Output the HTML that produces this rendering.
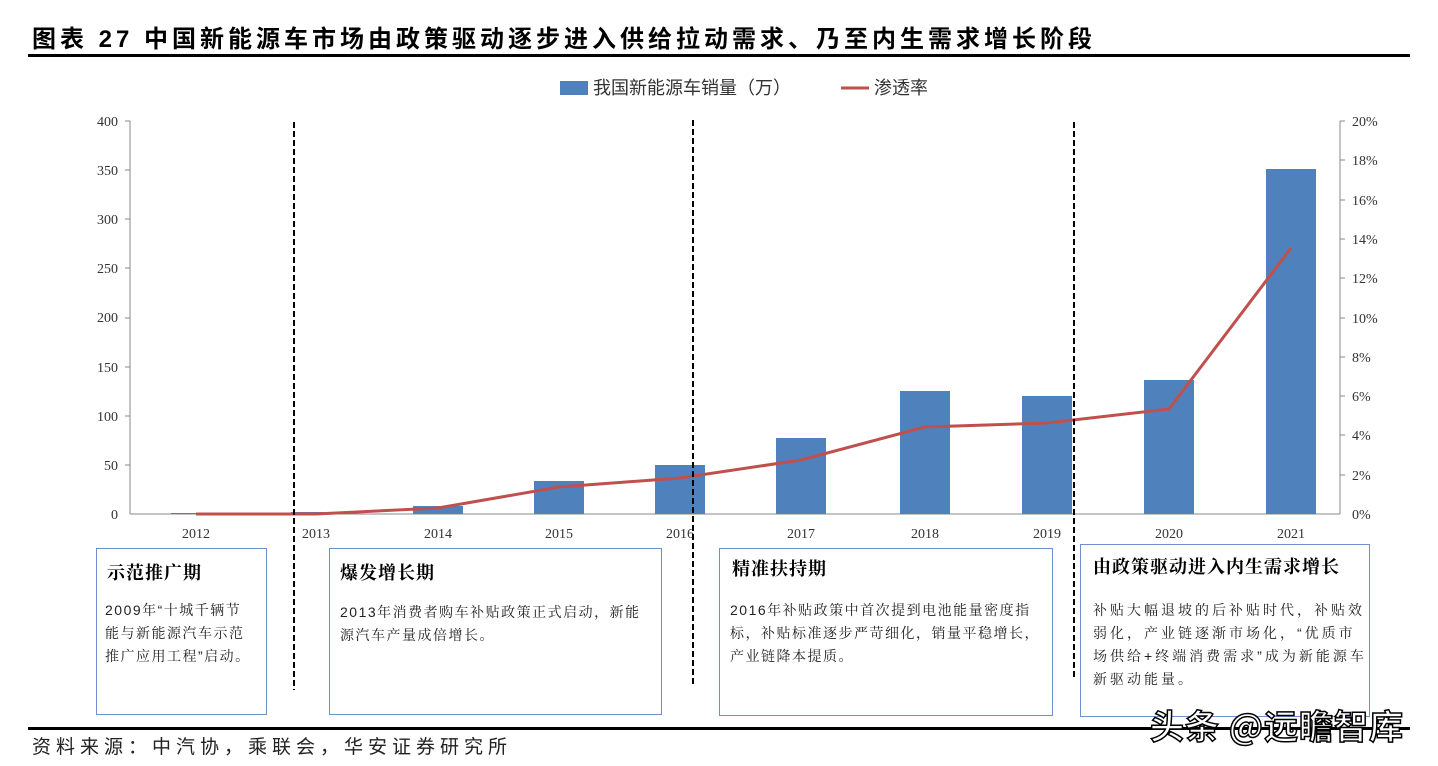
<!DOCTYPE html>
<html><head><meta charset="utf-8"><style>
body{margin:0;width:1438px;height:766px;background:#fff;overflow:hidden;font-family:"Liberation Serif","Noto Serif CJK SC",serif;position:relative}
.t{position:absolute;white-space:nowrap}
.box{position:absolute;border:1.5px solid #6f8fd0;box-sizing:border-box;background:#fff}
.box h3{margin:0;position:absolute;font-size:18px;font-weight:bold;font-family:"Noto Serif CJK SC",serif;color:#000;letter-spacing:1px}
.box p{margin:0;position:absolute;font-size:14px;line-height:23px;color:#222;letter-spacing:1.5px;white-space:nowrap;font-family:"Liberation Sans","Noto Serif CJK SC",serif}
</style></head><body>
<div class="t" style="left:32px;top:19px;font-size:24px;font-weight:bold;font-family:'Liberation Sans','Noto Sans CJK SC',sans-serif;letter-spacing:4px">图表 27 中国新能源车市场由政策驱动逐步进入供给拉动需求、乃至内生需求增长阶段</div>
<div style="position:absolute;left:28px;top:54px;width:1382px;height:3px;background:#000"></div>
<svg style="position:absolute;left:0;top:0" width="1438" height="766" font-family="Liberation Serif" font-size="14" fill="#333">
<rect x="560" y="81" width="28" height="14" fill="#4f81bd"/>
<text x="593" y="94" font-size="18" font-family="Liberation Sans,Noto Sans CJK SC,sans-serif" fill="#333">我国新能源车销量（万）</text>
<line x1="841" y1="88" x2="869" y2="88" stroke="#c0504d" stroke-width="3"/>
<text x="874" y="94" font-size="18" font-family="Liberation Sans,Noto Sans CJK SC,sans-serif" fill="#333">渗透率</text>
<g stroke="#888" stroke-width="1">
<line x1="130" y1="121" x2="130" y2="514"/><line x1="1340" y1="121" x2="1340" y2="514"/>
<line x1="130" y1="514" x2="1340" y2="514"/>
</g>
<g text-anchor="end">
<text x="118" y="126">400</text><text x="118" y="175">350</text><text x="118" y="224">300</text><text x="118" y="273">250</text><text x="118" y="322">200</text><text x="118" y="372">150</text><text x="118" y="421">100</text><text x="118" y="470">50</text><text x="118" y="519">0</text>
</g>
<g stroke="#888"><line x1="125" y1="121" x2="130" y2="121"/><line x1="125" y1="170" x2="130" y2="170"/><line x1="125" y1="219" x2="130" y2="219"/><line x1="125" y1="268" x2="130" y2="268"/><line x1="125" y1="318" x2="130" y2="318"/><line x1="125" y1="367" x2="130" y2="367"/><line x1="125" y1="416" x2="130" y2="416"/><line x1="125" y1="465" x2="130" y2="465"/>
<line x1="1340" y1="121" x2="1345" y2="121"/><line x1="1340" y1="160" x2="1345" y2="160"/><line x1="1340" y1="200" x2="1345" y2="200"/><line x1="1340" y1="239" x2="1345" y2="239"/><line x1="1340" y1="278" x2="1345" y2="278"/><line x1="1340" y1="318" x2="1345" y2="318"/><line x1="1340" y1="357" x2="1345" y2="357"/><line x1="1340" y1="396" x2="1345" y2="396"/><line x1="1340" y1="435" x2="1345" y2="435"/><line x1="1340" y1="475" x2="1345" y2="475"/></g>
<g>
<text x="1352" y="126">20%</text><text x="1352" y="165">18%</text><text x="1352" y="205">16%</text><text x="1352" y="244">14%</text><text x="1352" y="283">12%</text><text x="1352" y="323">10%</text><text x="1352" y="362">8%</text><text x="1352" y="401">6%</text><text x="1352" y="440">4%</text><text x="1352" y="480">2%</text><text x="1352" y="519">0%</text>
</g>
<g fill="#4f81bd">
<rect x="171" y="513" width="50" height="1"/><rect x="291" y="512" width="50" height="2"/><rect x="413" y="506" width="50" height="8"/><rect x="534" y="481" width="50" height="33"/><rect x="655" y="465" width="50" height="49"/><rect x="776" y="438" width="50" height="76"/><rect x="900" y="391" width="50" height="123"/><rect x="1022" y="396" width="50" height="118"/><rect x="1144" y="380" width="50" height="134"/><rect x="1266" y="169" width="50" height="345"/>
</g>
<polyline fill="none" stroke="#c0504d" stroke-width="3" points="196,514 316,514 438,508 559,487 680,478 801,460 925,427 1047,423 1169,409 1291,248"/>
<g text-anchor="middle">
<text x="196" y="538">2012</text><text x="316" y="538">2013</text><text x="438" y="538">2014</text><text x="559" y="538">2015</text><text x="680" y="538">2016</text><text x="801" y="538">2017</text><text x="925" y="538">2018</text><text x="1047" y="538">2019</text><text x="1169" y="538">2020</text><text x="1291" y="538">2021</text>
</g>
<g stroke="#000" stroke-width="2" stroke-dasharray="6,3">
<line x1="294" y1="122" x2="294" y2="690"/><line x1="693" y1="120" x2="693" y2="685"/><line x1="1074" y1="122" x2="1074" y2="680"/>
</g>
</svg>
<div class="box" style="left:96px;top:548px;width:171px;height:167px"><h3 style="left:10px;top:10px">示范推广期</h3><p style="left:8px;top:50px">2009年“十城千辆节<br>能与新能源汽车示范<br>推广应用工程”启动。</p></div>
<div class="box" style="left:329px;top:548px;width:333px;height:167px"><h3 style="left:10px;top:10px">爆发增长期</h3><p style="left:10px;top:52px">2013年消费者购车补贴政策正式启动，新能<br>源汽车产量成倍增长。</p></div>
<div class="box" style="left:719px;top:548px;width:334px;height:168px"><h3 style="left:12px;top:6px">精准扶持期</h3><p style="left:10px;top:50px">2016年补贴政策中首次提到电池能量密度指<br>标，补贴标准逐步严苛细化，销量平稳增长，<br>产业链降本提质。</p></div>
<div class="box" style="left:1080px;top:544px;width:290px;height:173px"><h3 style="left:12px;top:8px">由政策驱动进入内生需求增长</h3><p style="left:12px;top:54px;letter-spacing:3px">补贴大幅退坡的后补贴时代，补贴效<br>弱化，产业链逐渐市场化，“优质市<br>场供给+终端消费需求”成为新能源车<br>新驱动能量。</p></div>
<div style="position:absolute;left:28px;top:727px;width:1382px;height:3px;background:#000"></div>
<div class="t" style="left:32px;top:732px;font-size:19px;letter-spacing:5px;font-family:'Noto Sans CJK SC',sans-serif;color:#222">资料来源：中汽协，乘联会，华安证券研究所</div>
<div class="t" style="left:1150px;top:700px;font-size:34px;letter-spacing:1px;font-family:'Noto Sans CJK SC',sans-serif;color:#fff;-webkit-text-stroke:1.5px #000;font-weight:bold">头条 @远瞻智库</div>
</body></html>
